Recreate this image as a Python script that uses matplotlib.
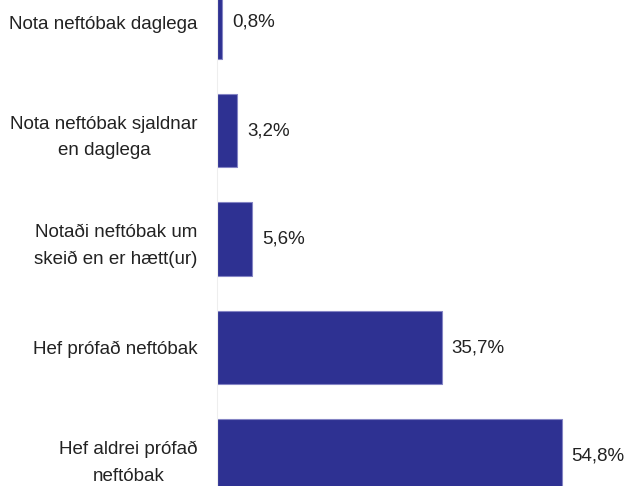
import matplotlib
matplotlib.use("Agg")
import matplotlib.pyplot as plt

# Neftóbaksnotkun
categories = [
    "Nota neftóbak daglega",
    "Nota neftóbak sjaldnar\nen daglega",
    "Notaði neftóbak um\nskeið en er hætt(ur)",
    "Hef prófað neftóbak",
    "Hef aldrei prófað\nneftóbak",
]
values = [0.8, 3.2, 5.6, 35.7, 54.8]
value_labels = ["0,8%", "3,2%", "5,6%", "35,7%", "54,8%"]

plt.rcParams['font.family'] = ['Liberation Sans', 'DejaVu Sans']

fig = plt.figure(figsize=(6.26, 4.86), dpi=100)
ax = fig.add_axes([0.347, 0.0, 0.653, 1.0])

ypos = list(range(len(categories)))
ax.barh(ypos, values, height=0.68, color='#2e3192',
        edgecolor='#8484c4', linewidth=0.8)

for y, v, lab in zip(ypos, values, value_labels):
    ax.annotate(lab, (v, y), xytext=(7, 0), textcoords='offset points',
                va='center', ha='left', fontsize=13.5, color='#222222')

ax.set_xlim(0, 65)
ax.set_ylim(4.276, -0.203)

ax.set_yticks(ypos)
ax.set_yticklabels(categories, fontsize=13.5, color='#222222',
                   multialignment='center', linespacing=1.75)
ax.tick_params(axis='y', length=0, pad=14)
ax.set_xticks([])

for s in ['top', 'right', 'bottom']:
    ax.spines[s].set_visible(False)
ax.spines['left'].set_color('#eeeeee')
ax.spines['left'].set_linewidth(0.8)

fig.savefig('out.png', dpi=100)
